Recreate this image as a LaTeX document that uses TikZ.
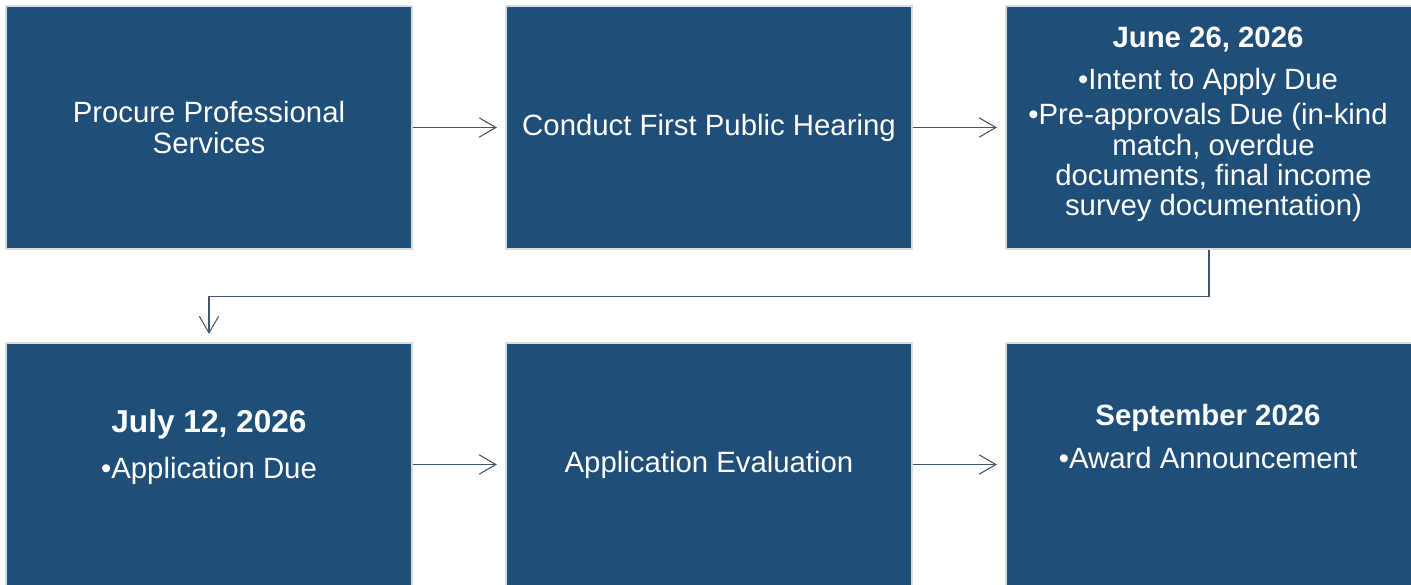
\documentclass[tikz,border=0pt]{standalone}
\usepackage{fontspec}
\setmainfont{Liberation Sans}
\usetikzlibrary{arrows.meta,positioning}

\definecolor{stageblue}{RGB}{31,78,121}
\definecolor{stageedge}{RGB}{218,220,224}
\definecolor{flowgray}{RGB}{68,84,106}

\tikzset{
  stagebox/.style={draw=stageedge, line width=1.2pt, fill=stageblue,
    minimum width=8.12cm, minimum height=4.86cm, inner sep=0pt,
    text=white, align=center, font=\fontsize{16.7}{17.2}\selectfont},
  stagetext/.style={text=white, anchor=base, inner sep=0pt,
    font=\fontsize{16.7}{17.2}\selectfont},
  stagetitle/.style={stagetext, font=\bfseries\fontsize{16.7}{17.2}\selectfont},
  flow/.style={draw=flowgray, line width=0.6pt,
    -{Straight Barb[length=9.5pt,width=11pt]}, shorten >=0.16cm}
}

\begin{document}
\begin{tikzpicture}
        \useasboundingbox (0,0) rectangle (28.22,-11.68);

        % top row
        \node[stagebox] (procure) at (4.18,-2.55) {Procure Professional\\Services};
        \node[stagebox] (hearing) at (14.18,-2.55) {Conduct First Public Hearing};
        \node[stagebox] (intent) at (24.18,-2.55) {};

        \node[stagetitle] (intentdate) at (24.16,-0.94) {June 26, 2026};
        \node[stagetext] (intentdue) at (24.16,-1.78) {•Intent to Apply Due};
        \node[stagetext] (preapp1) at (24.16,-2.48) {•Pre-approvals Due (in-kind};
        \node[stagetext] (preapp2) at (24.27,-3.10) {match, overdue};
        \node[stagetext] (preapp3) at (24.27,-3.70) {documents, final income};
        \node[stagetext] (preapp4) at (24.27,-4.30) {survey documentation)};

        % bottom row
        \node[stagebox] (apply) at (4.18,-9.29) {};
        \node[stagebox] (evaluate) at (14.18,-9.29) {Application Evaluation};
        \node[stagebox] (award) at (24.18,-9.29) {};

        \node[stagetitle, font=\bfseries\fontsize{18}{20}\selectfont] (applydate) at (4.18,-8.64) {July 12, 2026};
        \node[stagetext] (applydue) at (4.18,-9.56) {•Application Due};
        \node[stagetitle] (awarddate) at (24.16,-8.50) {September 2026};
        \node[stagetext] (awardnote) at (24.16,-9.36) {•Award Announcement};

        % connectors
        \draw[flow] (procure.east) -- (hearing.west);
        \draw[flow] (hearing.east) -- (intent.west);
        \coordinate (bend) at ([yshift=-0.92cm]intent.south);
        \draw[flow] (intent.south) -- (bend) -| (apply.north);
        \draw[flow] (apply.east) -- (evaluate.west);
        \draw[flow] (evaluate.east) -- (award.west);
    \end{tikzpicture}
\end{document}
